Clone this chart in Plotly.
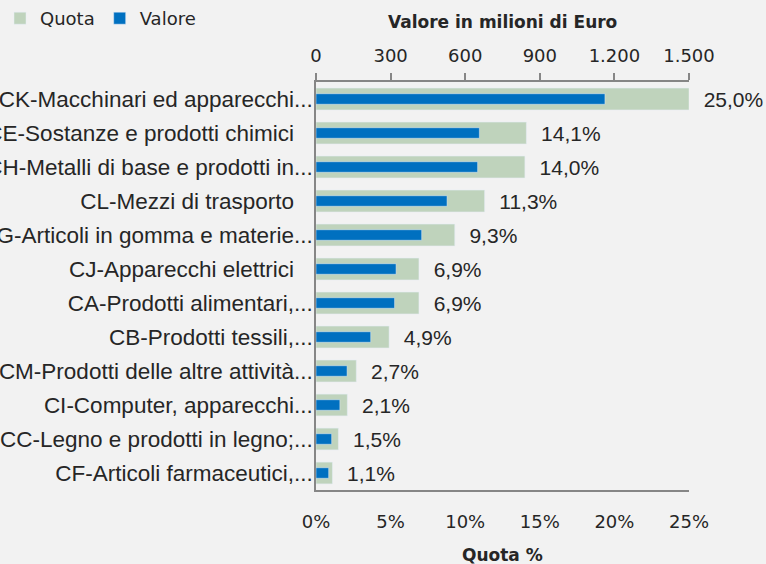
import plotly.graph_objects as go

categories = [
    "CK-Macchinari ed apparecchi...",
    "CE-Sostanze e prodotti chimici\u00a0\u00a0\u00a0",
    "CH-Metalli di base e prodotti in...",
    "CL-Mezzi di trasporto\u00a0\u00a0\u00a0",
    "CG-Articoli in gomma e materie...",
    "CJ-Apparecchi elettrici\u00a0\u00a0\u00a0",
    "CA-Prodotti alimentari,...",
    "CB-Prodotti tessili,...",
    "CM-Prodotti delle altre attività...",
    "CI-Computer, apparecchi...",
    "CC-Legno e prodotti in legno;...",
    "CF-Articoli farmaceutici,...",
]
quota = [25.0, 14.1, 14.0, 11.3, 9.3, 6.9, 6.9, 4.9, 2.7, 2.1, 1.5, 1.1]
valore = [1162, 657, 650, 527, 425, 322, 316, 220, 125, 96, 63, 51]
quota_ticks = [0, 5, 10, 15, 20, 25]
quota_ticktext = ["0%", "5%", "10%", "15%", "20%", "25%"]
valore_ticks = [0, 300, 600, 900, 1200, 1500]

GREEN = "#bfd3bc"
BLUE = "#0070c0"
AXIS = "#868686"
TXT = "#262626"
BG = "#f2f2f2"
LABEL_FONT = "Arial, Liberation Sans, sans-serif"
TICK_FONT = "Tahoma, DejaVu Sans, sans-serif"

fig = go.Figure()
fig.add_trace(go.Bar(
    name="Quota", y=categories, x=quota, orientation="h",
    xaxis="x", yaxis="y", marker_color=GREEN, width=0.64,
    text=quota, texttemplate="\u00a0\u00a0%{x:.1f}%", textposition="outside",
    textfont=dict(family=LABEL_FONT, size=21, color=TXT),
    constraintext="none", cliponaxis=False, hoverinfo="skip",
))
fig.add_trace(go.Bar(
    name="Valore", y=categories, x=valore, orientation="h",
    xaxis="x2", yaxis="y", marker_color=BLUE, width=0.31,
    hoverinfo="skip",
))

fig.update_layout(
    width=766, height=564,
    margin=dict(l=316, r=77, t=82, b=74, autoexpand=False),
    paper_bgcolor=BG, plot_bgcolor=BG,
    separators=",.",
    barmode="overlay",
    showlegend=True,
    legend=dict(
        orientation="h", xref="container", yref="container",
        x=-0.023, y=1.0, xanchor="left", yanchor="top",
        font=dict(family=TICK_FONT, size=18, color=TXT),
        bgcolor="rgba(0,0,0,0)", itemwidth=30, traceorder="normal",
    ),
    xaxis=dict(
        range=[0, 25], tickvals=quota_ticks, ticktext=quota_ticktext,
        showline=True, linecolor=AXIS, linewidth=1.5, showgrid=False,
        zeroline=False, ticks="", ticklabelstandoff=15, automargin=False,
        tickfont=dict(family=TICK_FONT, size=18, color=TXT),
        fixedrange=True,
    ),
    xaxis2=dict(
        range=[0, 1500], tickvals=valore_ticks, overlaying="x", side="top",
        anchor="y", showline=True, linecolor=AXIS, linewidth=1.5,
        showgrid=False, zeroline=False, ticks="outside", ticklen=7,
        tickcolor=AXIS, tickwidth=1.5, separatethousands=True,
        ticklabelstandoff=4, automargin=False,
        tickfont=dict(family=TICK_FONT, size=18, color=TXT),
        fixedrange=True,
    ),
    yaxis=dict(
        range=[11.5, -0.5], showline=True, linecolor=AXIS, linewidth=1.5,
        showgrid=False, zeroline=False, ticks="", automargin=False,
        tickfont=dict(family=LABEL_FONT, size=22.5, color=TXT),
        ticklabelstandoff=-3, fixedrange=True,
    ),
    annotations=[
        dict(text="<b>Valore in milioni di Euro</b>", xref="paper", yref="paper",
             x=0.5, y=(490 - 22) / 408, xanchor="center", yanchor="middle",
             showarrow=False, font=dict(family=TICK_FONT, size=17, color=TXT)),
        dict(text="<b>Quota %</b>", xref="paper", yref="paper",
             x=0.5, y=(490 - 555) / 408, xanchor="center", yanchor="middle",
             showarrow=False, font=dict(family=TICK_FONT, size=17, color=TXT)),
    ],
)

fig.write_html("out.html", config={"displayModeBar": False},
               post_script="document.body.style.margin='0';")
